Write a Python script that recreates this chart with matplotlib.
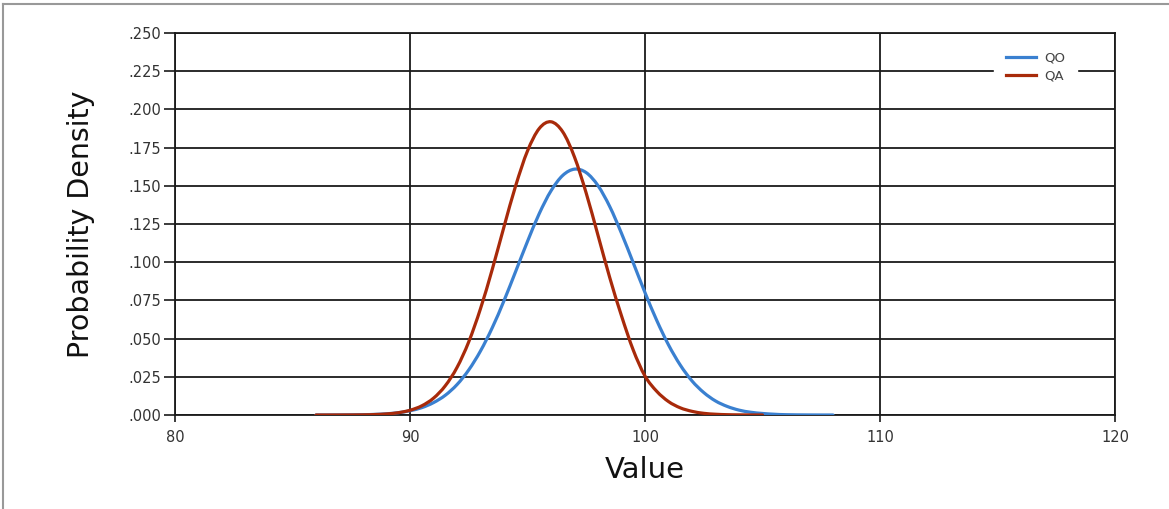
import matplotlib
matplotlib.use("Agg")
import matplotlib.pyplot as plt
import numpy as np
from matplotlib.lines import Line2D
from matplotlib.path import Path
from matplotlib.patches import PathPatch

# Values
x_qo = [86, 87, 88, 88.5, 89, 89.5, 90, 90.5, 91, 91.5, 92, 92.5, 93, 93.5,
        94, 94.5, 95, 95.5, 96, 96.5, 97, 97.5, 98, 98.5, 99, 99.5, 100, 100.5,
        101, 101.5, 102, 102.5, 103, 103.5, 104, 104.5, 105, 105.5, 106, 107, 108]
qo = [0.0, 0.00004, 0.0002, 0.0004, 0.0008, 0.0015, 0.0028, 0.0048, 0.0081,
      0.0129, 0.0199, 0.0295, 0.0419, 0.0571, 0.0748, 0.0941, 0.1136, 0.1318,
      0.1467, 0.1568, 0.1609, 0.1586, 0.1501, 0.1364, 0.1189, 0.0996, 0.0801,
      0.0619, 0.0459, 0.0327, 0.0223, 0.0147, 0.0092, 0.0056, 0.0032, 0.0018,
      0.0010, 0.0005, 0.0002, 0.00004, 0.0]

x_qa = [86, 87, 88, 88.5, 89, 89.5, 90, 90.5, 91, 91.5, 92, 92.5, 93, 93.5,
        94, 94.5, 95, 95.5, 96, 96.5, 97, 97.5, 98, 98.5, 99, 99.5, 100, 100.5,
        101, 101.5, 102, 102.5, 103, 103.5, 104, 105]
qa = [0.0, 0.00002, 0.0001, 0.0003, 0.0007, 0.0015, 0.0031, 0.0060, 0.0110,
      0.0191, 0.0311, 0.0479, 0.0696, 0.0953, 0.1232, 0.1502, 0.1728, 0.1875,
      0.1919, 0.1853, 0.1688, 0.1451, 0.1176, 0.0899, 0.0649, 0.0425, 0.0255,
      0.0155, 0.0088, 0.0047, 0.0024, 0.0011, 0.0005, 0.0002, 0.0001, 0.0]

series_names = ["QO", "QA"]
series_colors = ["#3a80d0", "#a82a0a"]

x_ticks = [80, 90, 100, 110, 120]
y_ticks = [0.000, 0.025, 0.050, 0.075, 0.100, 0.125, 0.150, 0.175, 0.200, 0.225, 0.250]
y_tick_labels = [".000", ".025", ".050", ".075", ".100", ".125", ".150", ".175",
                 ".200", ".225", ".250"]


def smooth_path(xs, ys):
    """Smooth rendering (Catmull-Rom as cubic Bezier) through the read points."""
    xs = np.asarray(xs, float)
    ys = np.asarray(ys, float)
    n = len(xs)
    verts = [(xs[0], ys[0])]
    codes = [Path.MOVETO]
    for i in range(n - 1):
        p0 = np.array([xs[max(i - 1, 0)], ys[max(i - 1, 0)]])
        p1 = np.array([xs[i], ys[i]])
        p2 = np.array([xs[i + 1], ys[i + 1]])
        p3 = np.array([xs[min(i + 2, n - 1)], ys[min(i + 2, n - 1)]])
        c1 = p1 + (p2 - p0) / 6.0
        c2 = p2 - (p3 - p1) / 6.0
        verts += [tuple(c1), tuple(c2), tuple(p2)]
        codes += [Path.CURVE4] * 3
    return Path(verts, codes)


fig = plt.figure(figsize=(11.69, 5.09), dpi=100)
ax = fig.add_axes([175 / 1169, 1 - 415 / 509, 940 / 1169, 382 / 509])

handles = []
for xs, ys, name, col in zip([x_qo, x_qa], [qo, qa], series_names, series_colors):
    patch = PathPatch(smooth_path(xs, ys), fill=False, edgecolor=col, lw=2.3,
                      zorder=3, capstyle="round", joinstyle="round")
    ax.add_patch(patch)
    handles.append(Line2D([], [], color=col, lw=2.3, label=name))

ax.set_xlim(80, 120)
ax.set_ylim(0, 0.25)
ax.set_xticks(x_ticks)
ax.set_yticks(y_ticks)
ax.set_yticklabels(y_tick_labels)
ax.grid(True, color="#1a1a1a", lw=1.3, zorder=1)
ax.set_axisbelow(True)
for s in ax.spines.values():
    s.set_color("#1a1a1a")
    s.set_linewidth(1.3)
ax.tick_params(axis="y", length=8, width=1.2, color="#1a1a1a", labelsize=10.5,
               labelcolor="#333333", pad=2)
ax.tick_params(axis="x", length=5, width=1.2, color="#1a1a1a", labelsize=10.5,
               labelcolor="#333333", pad=6)

ax.set_xlabel("Value", fontsize=21, color="#111111", labelpad=8)
ax.set_ylabel("Probability Density", fontsize=20.5, color="#111111", labelpad=24)

leg = ax.legend(handles=handles, loc="upper right", bbox_to_anchor=(0.962, 0.99),
                frameon=True, fontsize=9.5, handlelength=2.3, handletextpad=0.6,
                labelspacing=0.4, borderpad=0.9, borderaxespad=0.2)
leg.get_frame().set_edgecolor("white")
leg.get_frame().set_facecolor("white")
leg.get_frame().set_alpha(1.0)
leg.get_frame().set_boxstyle("square", pad=0)
for t in leg.get_texts():
    t.set_color("#444444")
leg.set_zorder(5)

# outer border (top and left) as in the reference
fig.add_artist(Line2D([3 / 1169, 1], [1 - 4 / 509, 1 - 4 / 509],
                      transform=fig.transFigure, color="#999999", lw=1.5))
fig.add_artist(Line2D([3 / 1169, 3 / 1169], [0, 1 - 4 / 509],
                      transform=fig.transFigure, color="#999999", lw=1.5))

fig.savefig("out.png", dpi=100)
